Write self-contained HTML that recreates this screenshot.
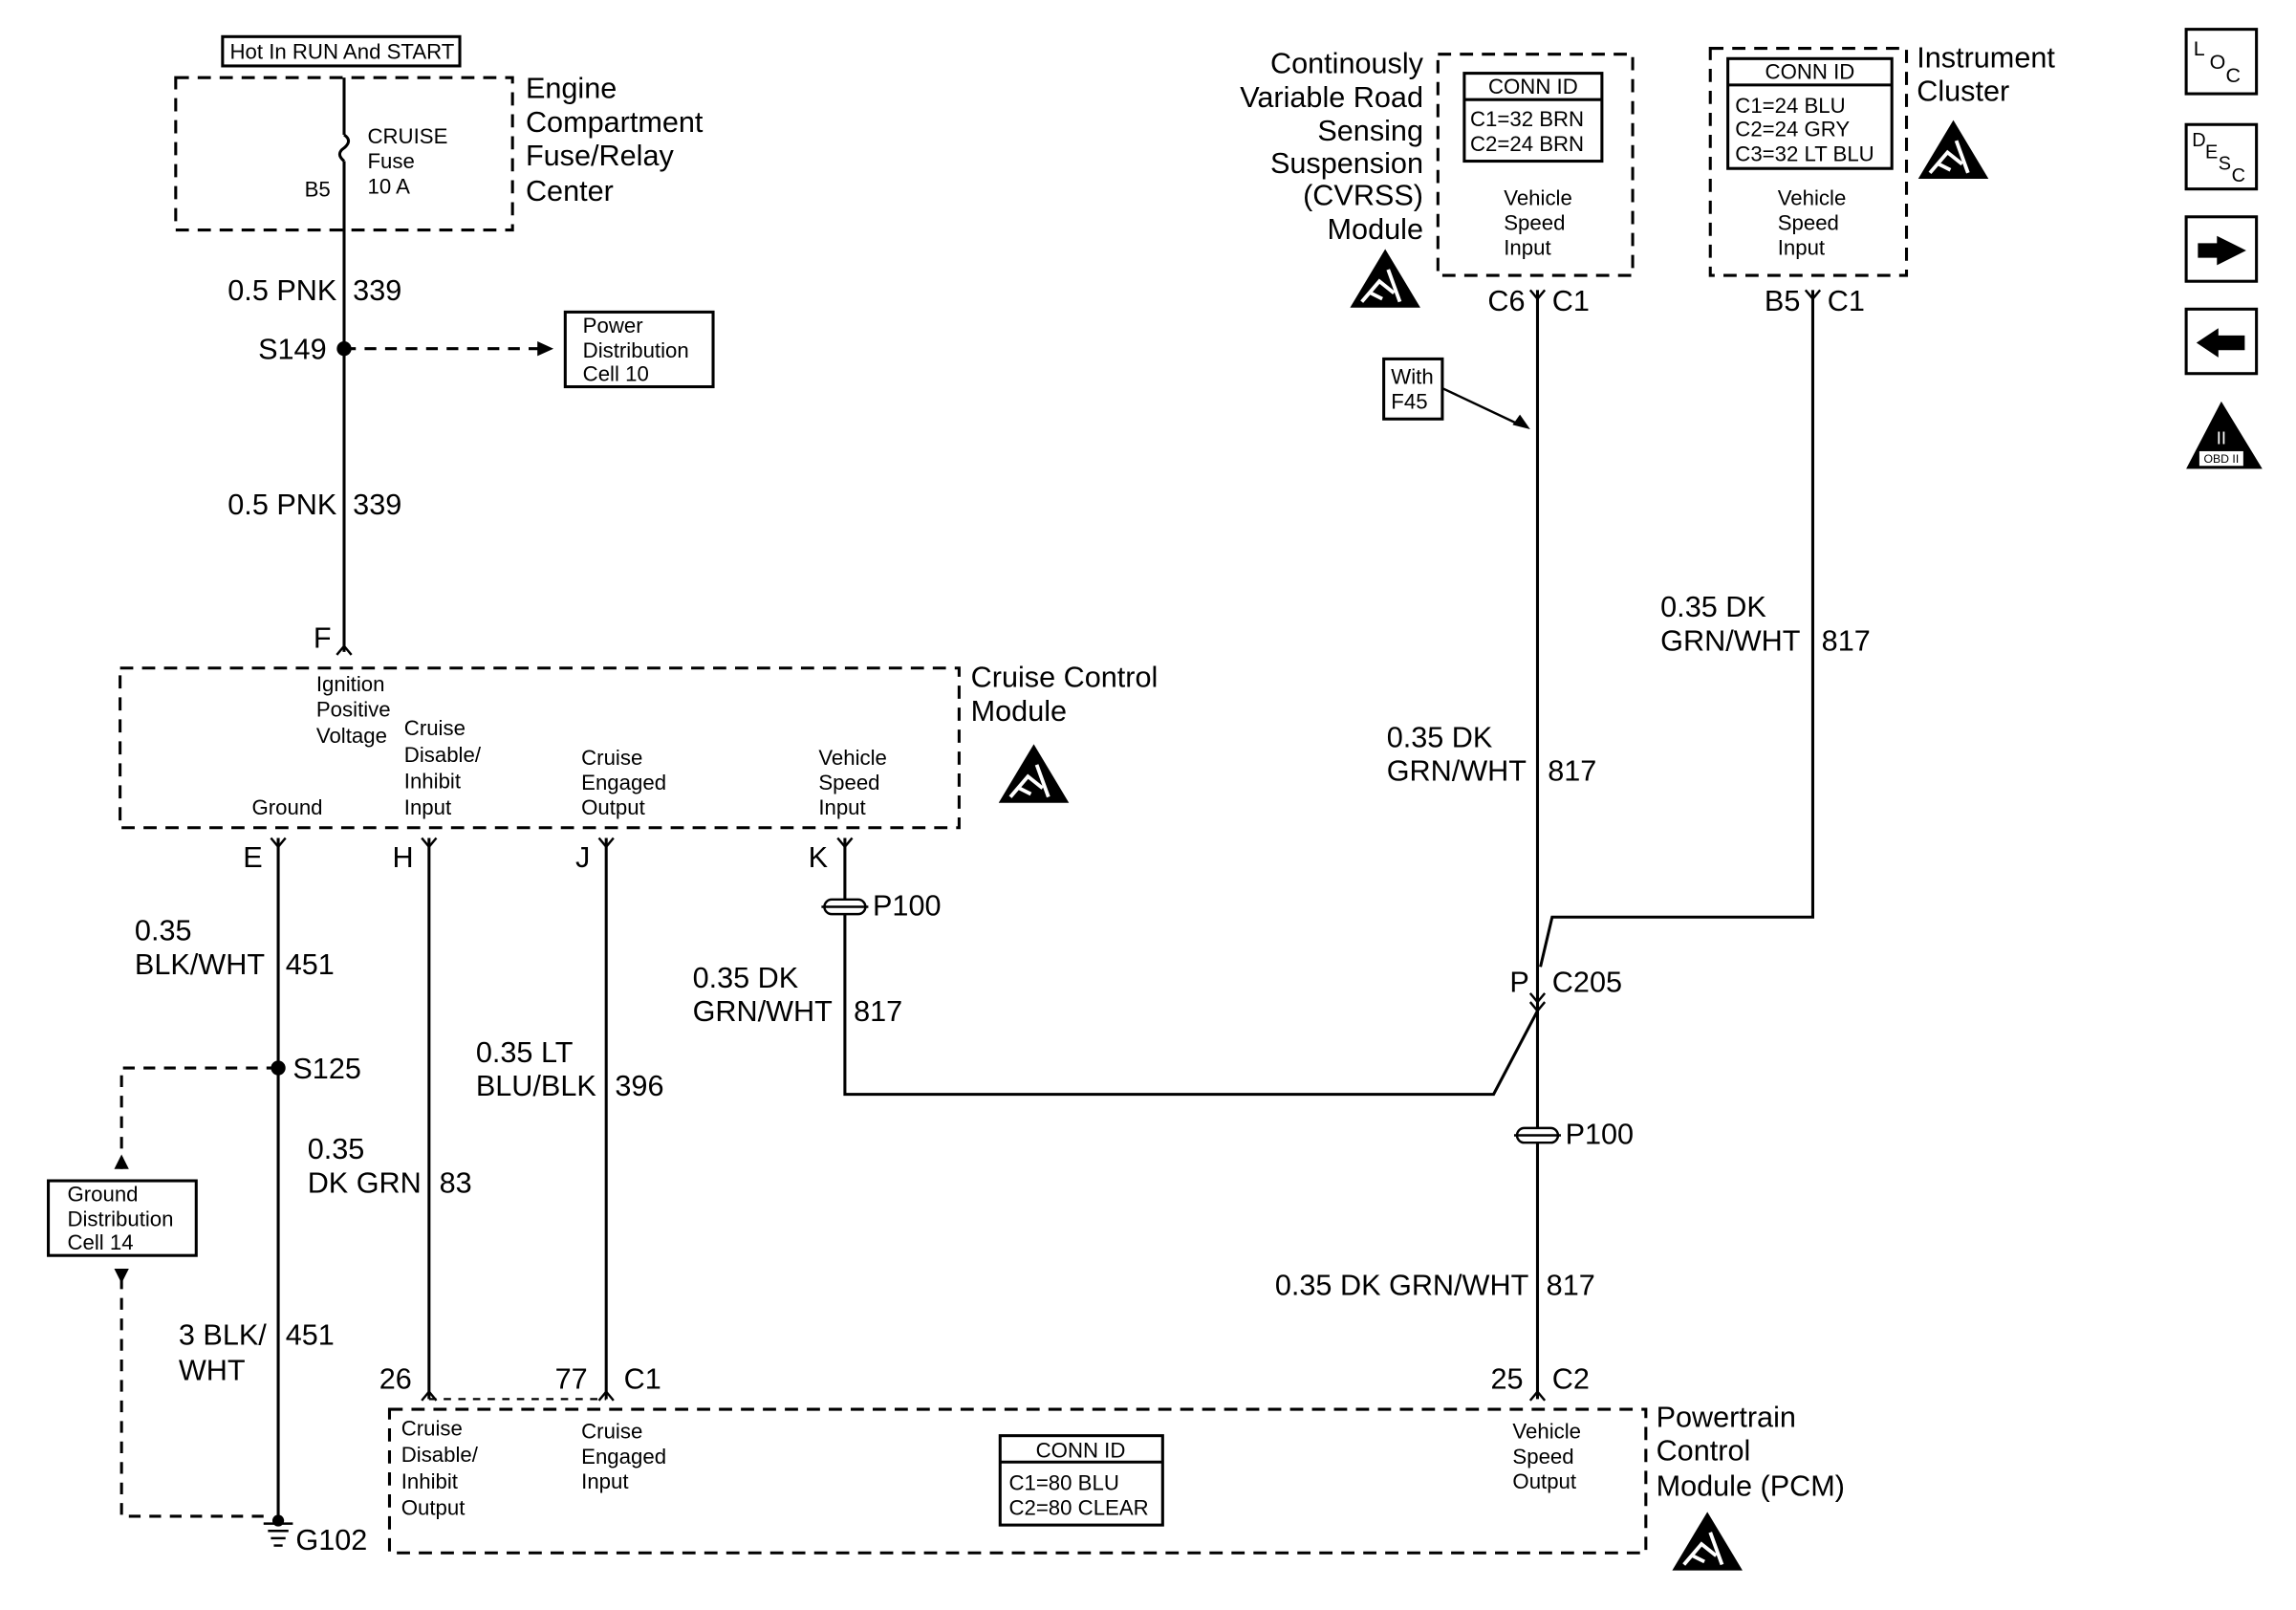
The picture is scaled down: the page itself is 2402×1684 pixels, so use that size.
<!DOCTYPE html>
<html><head><meta charset="utf-8"><style>
html,body{margin:0;padding:0;background:#fff}
svg{display:block}
text{font-family:"Liberation Sans",Arial,sans-serif;fill:#000}
.b{font-size:20px}
.s{font-size:14.5px}
</style></head><body>
<svg width="2402" height="1684" viewBox="0 0 1568 1099" preserveAspectRatio="none" xmlns="http://www.w3.org/2000/svg">
<defs>
<g id="esd">
<polygon points="24,0 48,40 0,40" fill="#000"/>
<path d="M8,36 L20,22 L30,30 M14,30 L22,34 M26,14 L34,36" stroke="#fff" stroke-width="2.5" fill="none"/>
</g>
<g id="conn"><path d="M-5,-6 L0,0 L5,-6" stroke="#000" stroke-width="1.6" fill="none"/></g>
<g id="connup"><path d="M-5,6 L0,0 L5,6" stroke="#000" stroke-width="1.6" fill="none"/></g>
<g id="p100"><rect x="-14" y="-5" width="28" height="10" rx="5" fill="#fff" stroke="#000" stroke-width="1.6"/><line x1="-16" y1="0" x2="16" y2="0" stroke="#000" stroke-width="1.6"/></g>
</defs>
<g fill="none" stroke="#000" stroke-width="2">
<rect x="152" y="25" width="162" height="20"/>
<rect x="120" y="53" width="230" height="104" stroke-dasharray="9,6"/>
<line x1="235" y1="53" x2="235" y2="92"/>
<path d="M235,92 q6,4 0,9 q-6,4 0,9"/>
<line x1="235" y1="110" x2="235" y2="445"/>
<line x1="235" y1="238" x2="370" y2="238" stroke-dasharray="8,6"/>
<rect x="386" y="213" width="101" height="51"/>
<rect x="82" y="456" width="573" height="109" stroke-dasharray="9,6"/>
<line x1="190" y1="572" x2="190" y2="1038"/>
<line x1="293" y1="572" x2="293" y2="955"/>
<line x1="414" y1="572" x2="414" y2="955"/>
<line x1="293" y1="955" x2="414" y2="955" stroke-dasharray="5,5" stroke-width="1.5"/>
<polyline points="577,572 577,747 1020,747 1050,690"/>
<path d="M190,729 H83 V798" stroke-dasharray="8,6"/>
<path d="M83,872 V1035 H180" stroke-dasharray="8,6"/>
<rect x="33" y="806" width="101" height="51"/>
<rect x="982" y="37" width="133" height="151" stroke-dasharray="9,6"/>
<rect x="1000" y="50" width="94" height="60"/>
<line x1="1000" y1="68" x2="1094" y2="68"/>
<rect x="1168" y="33" width="134" height="155" stroke-dasharray="9,6"/>
<rect x="1180" y="40" width="112" height="75"/>
<line x1="1180" y1="58" x2="1292" y2="58"/>
<line x1="1050" y1="198" x2="1050" y2="955"/>
<polyline points="1238,198 1238,626 1060,626 1052,660"/>
<rect x="945" y="245" width="40" height="41"/>
<line x1="985" y1="265" x2="1038" y2="290" stroke-width="1.6"/>
<rect x="266" y="962" width="858" height="98" stroke-dasharray="9,6"/>
<rect x="683" y="980" width="111" height="61"/>
<line x1="683" y1="998" x2="794" y2="998"/>
<rect x="1493" y="20" width="48" height="44"/>
<rect x="1493" y="85" width="48" height="44"/>
<rect x="1493" y="148" width="48" height="44"/>
<rect x="1493" y="211" width="48" height="44"/>
</g>
<polygon points="378,238 367,233 367,243" fill="#000"/>
<polygon points="1045,293 1033,290 1038,283" fill="#000"/>
<polygon points="83,788 78,798 88,798" fill="#000"/>
<polygon points="83,876 78,866 88,866" fill="#000"/>
<polygon points="1500,171 1520,161 1520,166 1533,166 1533,176 1520,176 1520,181" fill="#000" transform="rotate(180 1517 171)"/>
<polygon points="1500,234 1515,224 1515,229 1533,229 1533,239 1515,239 1515,244" fill="#000"/>
<polygon points="1517,274 1545,320 1493,320" fill="#000"/>
<rect x="1502" y="308" width="30" height="10" fill="#fff"/>
<text x="1517" y="316" font-size="8" text-anchor="middle">OBD II</text>
<text x="1517" y="303" font-size="12" text-anchor="middle" style="fill:#fff">II</text>
<circle cx="235" cy="238" r="5" fill="#000"/>
<circle cx="190" cy="729" r="5" fill="#000"/>
<use href="#connup" x="235" y="441"/>
<use href="#conn" x="190" y="578"/><use href="#conn" x="293" y="578"/><use href="#conn" x="414" y="578"/><use href="#conn" x="577" y="578"/>
<use href="#conn" x="1050" y="204"/><use href="#conn" x="1238" y="204"/>
<use href="#conn" x="1050" y="690"/><use href="#conn" x="1050" y="684"/>
<use href="#connup" x="1050" y="950"/><use href="#connup" x="293" y="950"/><use href="#connup" x="414" y="950"/>
<use href="#p100" x="577" y="619"/><use href="#p100" x="1050" y="775"/>
<g stroke="#000" stroke-width="1.6"><line x1="183" y1="1045" x2="197" y2="1045"/><line x1="185" y1="1050" x2="195" y2="1050"/><line x1="187" y1="1055" x2="193" y2="1055"/><line x1="180" y1="1040" x2="200" y2="1040"/></g>
<circle cx="190" cy="1038" r="4" fill="#000"/>
<use href="#esd" x="922" y="170"/><use href="#esd" x="1310" y="82"/><use href="#esd" x="682" y="508"/><use href="#esd" x="1142" y="1032"/>
<text class="s" x="157" y="40">Hot In RUN And START</text>
<text class="s" x="251" y="98">CRUISE</text><text class="s" x="251" y="115">Fuse</text><text class="s" x="251" y="132">10 A</text>
<text class="s" x="208" y="134">B5</text>
<text class="b" x="359" y="67">Engine</text><text class="b" x="359" y="90">Compartment</text><text class="b" x="359" y="113">Fuse/Relay</text><text class="b" x="359" y="137">Center</text>
<text class="b" x="230" y="205" text-anchor="end">0.5 PNK</text><text class="b" x="241" y="205">339</text>
<text class="b" x="223" y="245" text-anchor="end">S149</text>
<text class="s" x="398" y="227">Power</text><text class="s" x="398" y="244">Distribution</text><text class="s" x="398" y="260">Cell 10</text>
<text class="b" x="230" y="351" text-anchor="end">0.5 PNK</text><text class="b" x="241" y="351">339</text>
<text class="b" x="214" y="442">F</text>
<text class="s" x="216" y="472">Ignition</text><text class="s" x="216" y="489">Positive</text><text class="s" x="216" y="507">Voltage</text>
<text class="s" x="276" y="502">Cruise</text><text class="s" x="276" y="520">Disable/</text><text class="s" x="276" y="538">Inhibit</text><text class="s" x="276" y="556">Input</text>
<text class="s" x="172" y="556">Ground</text>
<text class="s" x="397" y="522">Cruise</text><text class="s" x="397" y="539">Engaged</text><text class="s" x="397" y="556">Output</text>
<text class="s" x="559" y="522">Vehicle</text><text class="s" x="559" y="539">Speed</text><text class="s" x="559" y="556">Input</text>
<text class="b" x="663" y="469">Cruise Control</text><text class="b" x="663" y="492">Module</text>
<text class="b" x="166" y="592">E</text><text class="b" x="268" y="592">H</text><text class="b" x="393" y="592">J</text><text class="b" x="552" y="592">K</text>
<text class="b" x="596" y="625">P100</text>
<text class="b" x="92" y="642">0.35</text><text class="b" x="92" y="665">BLK/WHT</text><text class="b" x="195" y="665">451</text>
<text class="b" x="200" y="736">S125</text>
<text class="s" x="46" y="820">Ground</text><text class="s" x="46" y="837">Distribution</text><text class="s" x="46" y="853">Cell 14</text>
<text class="b" x="325" y="725">0.35 LT</text><text class="b" x="325" y="748">BLU/BLK</text><text class="b" x="420" y="748">396</text>
<text class="b" x="210" y="791">0.35</text><text class="b" x="210" y="814">DK GRN</text><text class="b" x="300" y="814">83</text>
<text class="b" x="473" y="674">0.35 DK</text><text class="b" x="473" y="697">GRN/WHT</text><text class="b" x="583" y="697">817</text>
<text class="b" x="122" y="918">3 BLK/</text><text class="b" x="122" y="942">WHT</text><text class="b" x="195" y="918">451</text>
<text class="b" x="259" y="948">26</text><text class="b" x="379" y="948">77</text><text class="b" x="426" y="948">C1</text>
<text class="b" x="202" y="1058">G102</text>
<text class="s" x="274" y="980">Cruise</text><text class="s" x="274" y="998">Disable/</text><text class="s" x="274" y="1016">Inhibit</text><text class="s" x="274" y="1034">Output</text>
<text class="s" x="397" y="982">Cruise</text><text class="s" x="397" y="999">Engaged</text><text class="s" x="397" y="1016">Input</text>
<text class="s" x="738" y="995" text-anchor="middle">CONN ID</text><text class="s" x="689" y="1017">C1=80 BLU</text><text class="s" x="689" y="1034">C2=80 CLEAR</text>
<text class="s" x="1033" y="982">Vehicle</text><text class="s" x="1033" y="999">Speed</text><text class="s" x="1033" y="1016">Output</text>
<text class="b" x="1131" y="974">Powertrain</text><text class="b" x="1131" y="997">Control</text><text class="b" x="1131" y="1021">Module (PCM)</text>
<text class="b" x="1018" y="948">25</text><text class="b" x="1060" y="948">C2</text>
<text class="b" x="1044" y="884" text-anchor="end">0.35 DK GRN/WHT</text><text class="b" x="1056" y="884">817</text>
<text class="b" x="1069" y="781">P100</text>
<text class="b" x="1031" y="677">P</text><text class="b" x="1060" y="677">C205</text>
<text class="b" x="947" y="510">0.35 DK</text><text class="b" x="947" y="533">GRN/WHT</text><text class="b" x="1057" y="533">817</text>
<text class="b" x="1134" y="421">0.35 DK</text><text class="b" x="1134" y="444">GRN/WHT</text><text class="b" x="1244" y="444">817</text>
<text class="s" x="950" y="262">With</text><text class="s" x="950" y="279">F45</text>
<text class="b" x="1016" y="212">C6</text><text class="b" x="1060" y="212">C1</text>
<text class="b" x="1205" y="212">B5</text><text class="b" x="1248" y="212">C1</text>
<text class="b" x="972" y="50" text-anchor="end">Continously</text><text class="b" x="972" y="73" text-anchor="end">Variable Road</text><text class="b" x="972" y="96" text-anchor="end">Sensing</text><text class="b" x="972" y="118" text-anchor="end">Suspension</text><text class="b" x="972" y="140" text-anchor="end">(CVRSS)</text><text class="b" x="972" y="163" text-anchor="end">Module</text>
<text class="s" x="1047" y="64" text-anchor="middle">CONN ID</text><text class="s" x="1004" y="86">C1=32 BRN</text><text class="s" x="1004" y="103">C2=24 BRN</text>
<text class="s" x="1027" y="140">Vehicle</text><text class="s" x="1027" y="157">Speed</text><text class="s" x="1027" y="174">Input</text>
<text class="s" x="1236" y="54" text-anchor="middle">CONN ID</text><text class="s" x="1185" y="77">C1=24 BLU</text><text class="s" x="1185" y="93">C2=24 GRY</text><text class="s" x="1185" y="110">C3=32 LT BLU</text>
<text class="s" x="1214" y="140">Vehicle</text><text class="s" x="1214" y="157">Speed</text><text class="s" x="1214" y="174">Input</text>
<text class="b" x="1309" y="46">Instrument</text><text class="b" x="1309" y="69">Cluster</text>
<text x="1498" y="38" font-size="14">L</text><text x="1509" y="47" font-size="14">O</text><text x="1520" y="56" font-size="14">C</text>
<text x="1497" y="100" font-size="13">D</text><text x="1506" y="108" font-size="13">E</text><text x="1515" y="116" font-size="13">S</text><text x="1524" y="124" font-size="13">C</text>
</svg>
</body></html>
